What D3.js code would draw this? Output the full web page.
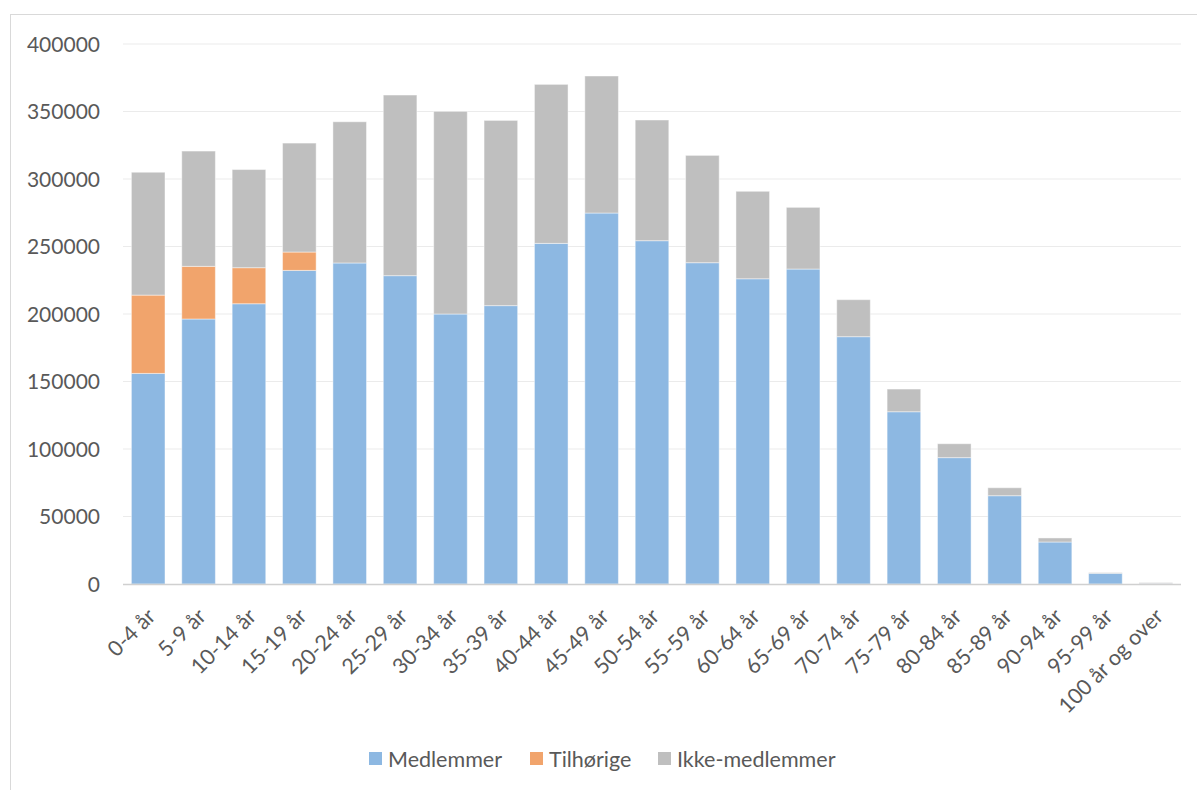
<!DOCTYPE html>
<html>
<head>
<meta charset="utf-8">
<script src="https://cdn.jsdelivr.net/npm/d3@7"></script>
<style>
  body { margin: 0; background: #fff; }
  svg text { font-family: Lato, "Open Sans", sans-serif; fill: #595959; }
</style>
</head>
<body>
<div class="graph"></div>
<script>
const categories = ["0-4 år", "5-9 år", "10-14 år", "15-19 år", "20-24 år", "25-29 år",
    "30-34 år", "35-39 år", "40-44 år", "45-49 år", "50-54 år", "55-59 år", "60-64 år",
    "65-69 år", "70-74 år", "75-79 år", "80-84 år", "85-89 år", "90-94 år", "95-99 år",
    "100 år og over"];

const medlemmer = [156000, 196300, 207600, 232300, 237800, 228400, 200000, 206200, 252300,
    274800, 254300, 238000, 226100, 233300, 183200, 127600, 93600, 65400, 31100, 7900, 300];
const tilhorige = [58000, 39000, 26700, 13600, 0, 0, 0, 0, 0, 0, 0, 0, 0, 0, 0, 0, 0, 0, 0, 0, 0];
const ikkeMedlemmer = [91000, 85400, 72700, 80700, 104600, 133800, 150100, 137200, 117800,
    101500, 89400, 79500, 64800, 45700, 27400, 16800, 10300, 5900, 3000, 500, 700];

const seriesNames = ["Medlemmer", "Tilhørige", "Ikke-medlemmer"];
const seriesColors = ["#8db8e2", "#f1a46c", "#bfbfbf"];
const yTicks = [0, 50000, 100000, 150000, 200000, 250000, 300000, 350000, 400000];

const width = 1197, height = 790;

const svg = d3.select(".graph")
        .append("svg")
        .attr("width", width)
        .attr("height", height);

// chart frame
svg.append("rect")
        .attr("x", 10.5).attr("y", 14.5)
        .attr("width", 1200).attr("height", 800)
        .attr("fill", "none")
        .attr("stroke", "#d9d9d9");

const x = d3.scaleBand()
        .domain(categories)
        .range([123, 1181])
        .paddingInner(0.333)
        .paddingOuter(0.1665);

const y = d3.scaleLinear()
        .domain([0, 400000])
        .range([584, 44]);

// grid lines
svg.append("g")
        .selectAll("line")
        .data(yTicks.slice(1)).enter()
        .append("line")
        .attr("x1", 123).attr("x2", 1181)
        .attr("y1", d => y(d)).attr("y2", d => y(d))
        .attr("stroke", "#ebebeb")
        .attr("stroke-width", 1.2);

// y labels
svg.append("g")
        .selectAll("text")
        .data(yTicks).enter()
        .append("text")
        .attr("x", 100)
        .attr("y", d => y(d))
        .attr("dy", "0.36em")
        .attr("text-anchor", "end")
        .attr("font-size", 21)
        .text(d => d);

const table = categories.map((c, i) => ({
    cat: c,
    Medlemmer: medlemmer[i],
    "Tilhørige": tilhorige[i],
    "Ikke-medlemmer": ikkeMedlemmer[i]
}));
const stacked = d3.stack().keys(seriesNames)(table);

svg.append("g")
        .selectAll("g")
        .data(stacked).enter()
        .append("g")
        .attr("fill", (_, i) => seriesColors[i])
        .selectAll("rect")
        .data(d => d.filter(s => s[1] > s[0])).enter()
        .append("rect")
        .attr("x", d => x(d.data.cat))
        .attr("width", x.bandwidth())
        .attr("y", d => y(d[1]))
        .attr("height", d => y(d[0]) - y(d[1]))
        .attr("stroke", "#ffffff")
        .attr("stroke-opacity", 0.45)
        .attr("stroke-width", 1);

// x axis line
svg.append("line")
        .attr("x1", 123).attr("x2", 1181)
        .attr("y1", 584.5).attr("y2", 584.5)
        .attr("stroke", "#d0d0d0")
        .attr("stroke-width", 1.5);

// x labels
svg.append("g")
        .selectAll("text")
        .data(categories).enter()
        .append("text")
        .attr("text-anchor", "end")
        .attr("font-size", 21.5)
        .attr("transform", d => `translate(${x(d) + x.bandwidth() / 2 - 2},${607}) rotate(-45)`)
        .attr("dy", "0.7em")
        .text(d => d);

// legend
const legendX = [369, 530, 658];
const legend = svg.append("g")
        .selectAll("g")
        .data(seriesNames).enter()
        .append("g")
        .attr("transform", (_, i) => `translate(${legendX[i]},752)`);
legend.append("rect")
        .attr("width", 13).attr("height", 13)
        .attr("fill", (_, i) => seriesColors[i]);
legend.append("text")
        .attr("x", 19).attr("y", 7)
        .attr("dy", "0.36em")
        .attr("font-size", 21.5)
        .text(d => d);
</script>
</body>
</html>
